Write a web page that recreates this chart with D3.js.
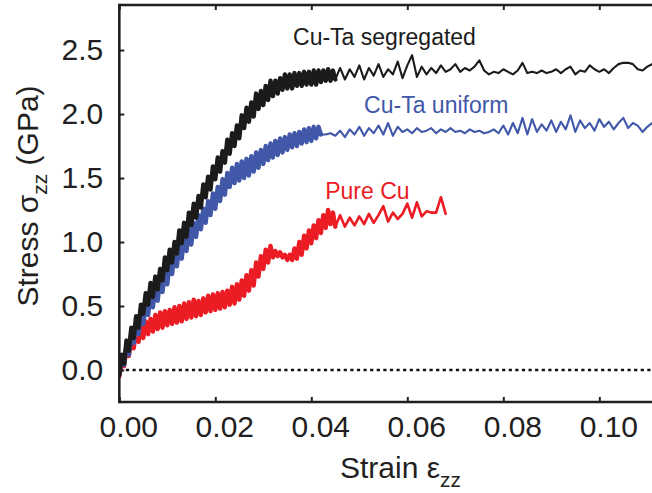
<!DOCTYPE html>
<html>
<head>
<meta charset="utf-8">
<script src="https://cdn.jsdelivr.net/npm/d3@7"></script>
<style>
  html, body { margin: 0; padding: 0; background: #fff; }
  svg { display: block; font-family: "Liberation Sans", Arial, Helvetica, sans-serif; }
</style>
</head>
<body>
<svg id="chart" width="652" height="493"></svg>
<script>
// ---- Stress–strain data (strain is sampled on a uniform grid, stress in GPa) ----

// Cu-Ta segregated: fine sampling 0 … 0.045, then coarse 0.046 … 0.111
const segregatedFineStart = 0, segregatedFineStep = 0.0005;
const segregatedFine = [
  -0.04, 0.12, 0.05, 0.23, 0.15, 0.33, 0.25, 0.42, 0.33, 0.51,
  0.44, 0.60, 0.51, 0.68, 0.57, 0.73, 0.63, 0.79, 0.70, 0.88,
  0.78, 0.94, 0.84, 1.00, 0.91, 1.09, 0.99, 1.15, 1.04, 1.23,
  1.13, 1.30, 1.19, 1.36, 1.27, 1.45, 1.35, 1.51, 1.41, 1.59,
  1.49, 1.66, 1.55, 1.71, 1.62, 1.80, 1.69, 1.85, 1.75, 1.91,
  1.81, 1.99, 1.89, 2.05, 1.94, 2.09, 1.98, 2.16, 2.04, 2.18,
  2.07, 2.22, 2.11, 2.26, 2.14, 2.26, 2.16, 2.28, 2.19, 2.31,
  2.20, 2.31, 2.20, 2.32, 2.22, 2.32, 2.22, 2.33, 2.23, 2.33,
  2.23, 2.34, 2.23, 2.34, 2.25, 2.34, 2.26, 2.35, 2.26, 2.34,
  2.27
];
const segregatedCoarseStart = 0.046, segregatedCoarseStep = 0.001;
const segregatedCoarse = [
  2.36, 2.27, 2.35, 2.29, 2.38, 2.27, 2.36, 2.30, 2.39, 2.29,
  2.35, 2.31, 2.41, 2.28, 2.38, 2.46, 2.29, 2.37, 2.31, 2.36,
  2.32, 2.38, 2.33, 2.35, 2.39, 2.33, 2.36, 2.34, 2.37, 2.42,
  2.34, 2.31, 2.33, 2.32, 2.35, 2.33, 2.31, 2.34, 2.40, 2.32,
  2.33, 2.32, 2.34, 2.32, 2.33, 2.35, 2.32, 2.35, 2.37, 2.31,
  2.34, 2.33, 2.38, 2.35, 2.33, 2.35, 2.32, 2.36, 2.39, 2.40,
  2.40, 2.39, 2.35, 2.34, 2.37, 2.39
];

// Cu-Ta uniform: fine sampling 0 … 0.042, then coarse 0.043 … 0.111
const uniformFineStart = 0, uniformFineStep = 0.0005;
const uniformFine = [
  -0.03, 0.10, 0.04, 0.20, 0.12, 0.29, 0.21, 0.37, 0.28, 0.44,
  0.36, 0.51, 0.43, 0.59, 0.49, 0.64, 0.54, 0.72, 0.61, 0.78,
  0.67, 0.86, 0.75, 0.92, 0.81, 0.98, 0.87, 1.04, 0.93, 1.10,
  0.98, 1.15, 1.04, 1.21, 1.10, 1.26, 1.15, 1.32, 1.21, 1.38,
  1.26, 1.43, 1.32, 1.49, 1.37, 1.54, 1.43, 1.58, 1.46, 1.61,
  1.48, 1.63, 1.50, 1.65, 1.52, 1.67, 1.55, 1.70, 1.58, 1.72,
  1.61, 1.75, 1.64, 1.77, 1.66, 1.79, 1.68, 1.81, 1.70, 1.82,
  1.72, 1.84, 1.74, 1.85, 1.75, 1.86, 1.77, 1.88, 1.78, 1.89,
  1.79, 1.90, 1.81, 1.90, 1.84
];
const uniformCoarseStart = 0.043, uniformCoarseStep = 0.001;
const uniformCoarse = [
  1.84, 1.85, 1.83, 1.87, 1.82, 1.88, 1.84, 1.90, 1.83, 1.89,
  1.85, 1.91, 1.84, 1.93, 1.83, 1.90, 1.86, 1.88, 1.85, 1.89,
  1.86, 1.87, 1.89, 1.85, 1.88, 1.86, 1.89, 1.86, 1.87, 1.85,
  1.88, 1.86, 1.87, 1.85, 1.86, 1.88, 1.85, 1.91, 1.84, 1.93,
  1.85, 1.97, 1.84, 1.96, 1.86, 1.92, 1.87, 1.95, 1.86, 1.94,
  1.88, 1.99, 1.86, 1.95, 1.89, 1.93, 1.87, 1.96, 1.90, 1.94,
  1.88, 1.93, 1.97, 1.89, 1.93, 1.91, 1.86, 1.90, 1.93
];

// Pure Cu: fine sampling 0 … 0.045, then coarse 0.046 … 0.068
const pureFineStart = 0, pureFineStep = 0.0005;
const pureFine = [
  -0.05, 0.06, 0.03, 0.17, 0.11, 0.25, 0.17, 0.30, 0.22, 0.35,
  0.25, 0.38, 0.28, 0.40, 0.30, 0.43, 0.32, 0.45, 0.33, 0.46,
  0.35, 0.47, 0.36, 0.49, 0.37, 0.50, 0.38, 0.52, 0.40, 0.53,
  0.41, 0.55, 0.42, 0.54, 0.43, 0.56, 0.45, 0.58, 0.46, 0.59,
  0.47, 0.60, 0.48, 0.61, 0.49, 0.62, 0.51, 0.65, 0.52, 0.67,
  0.55, 0.70, 0.58, 0.74, 0.62, 0.78, 0.66, 0.84, 0.73, 0.89,
  0.79, 0.94, 0.84, 0.97, 0.88, 0.93, 0.89, 0.92, 0.88, 0.90,
  0.86, 0.90, 0.86, 0.95, 0.87, 1.00, 0.90, 1.05, 0.95, 1.09,
  0.99, 1.13, 1.03, 1.17, 1.07, 1.21, 1.11, 1.25, 1.14, 1.23,
  1.12
];
const pureCoarseStart = 0.046, pureCoarseStep = 0.001;
const pureCoarse = [
  1.21, 1.12, 1.19, 1.13, 1.20, 1.14, 1.22, 1.15, 1.21, 1.28,
  1.16, 1.23, 1.18, 1.22, 1.30, 1.19, 1.31, 1.20, 1.24, 1.23,
  1.23, 1.35, 1.22
];

// Axis ticks
const xTicks = [0, 0.02, 0.04, 0.06, 0.08, 0.10];
const yTicks = [0, 0.5, 1.0, 1.5, 2.0, 2.5];

// Curve labels
const seriesNames = ["Pure Cu", "Cu-Ta uniform", "Cu-Ta segregated"];
const seriesColors = ["#ec1c24", "#4157a8", "#1b1b1b"];
// label anchor in data units (strain, stress)
const labelAnchors = [[0.0429, 1.336], [0.0510, 2.01], [0.0362, 2.54]];

// ---- Drawing ----
const W = 652, H = 493;
const plot = { left: 119.3, right: 652.6, top: 5, bottom: 402 };

const x = d3.scaleLinear().domain([0, 0.1111]).range([plot.left, plot.right]);
const y = d3.scaleLinear().domain([-0.25, 2.852]).range([plot.bottom, plot.top]);

const svg = d3.select("#chart");
const ink = "#231f20";

function sampled(start, step, values) {
  return values.map((v, i) => [start + i * step, v]);
}

// each curve: a densely sampled part (drawn as a heavy band) and a coarser tail
const curves = [
  { fine: sampled(pureFineStart, pureFineStep, pureFine),
    coarse: sampled(pureCoarseStart, pureCoarseStep, pureCoarse), tailWidth: 2.6 },
  { fine: sampled(uniformFineStart, uniformFineStep, uniformFine),
    coarse: sampled(uniformCoarseStart, uniformCoarseStep, uniformCoarse), tailWidth: 2.1 },
  { fine: sampled(segregatedFineStart, segregatedFineStep, segregatedFine),
    coarse: sampled(segregatedCoarseStart, segregatedCoarseStep, segregatedCoarse), tailWidth: 2.1 }
];

svg.append("defs").append("clipPath").attr("id", "plotClip")
  .append("rect")
  .attr("x", plot.left).attr("y", plot.top)
  .attr("width", plot.right - plot.left).attr("height", plot.bottom - plot.top);

// zero-stress reference line
svg.append("line")
  .attr("x1", x(0)).attr("x2", plot.right)
  .attr("y1", y(0)).attr("y2", y(0))
  .attr("stroke", "#111").attr("stroke-width", 2.4)
  .attr("stroke-dasharray", "3.2,3.4");

const line = d3.line().x(d => x(d[0])).y(d => y(d[1]));

const curveG = svg.append("g").attr("clip-path", "url(#plotClip)");
curves.forEach((c, i) => {
  const g = curveG.append("g")
    .attr("fill", "none")
    .attr("stroke", seriesColors[i])
    .attr("stroke-linejoin", "round")
    .attr("stroke-linecap", "round");
  g.append("path")
    .attr("d", line([c.fine[c.fine.length - 1]].concat(c.coarse)))
    .attr("stroke-width", c.tailWidth);
  g.append("path")
    .attr("d", line(c.fine))
    .attr("stroke-width", 4.4);
});

// curve labels
svg.append("g").selectAll("text").data(seriesNames).join("text")
  .attr("x", (d, i) => x(labelAnchors[i][0]))
  .attr("y", (d, i) => y(labelAnchors[i][1]))
  .attr("fill", (d, i) => seriesColors[i])
  .attr("font-size", 23)
  .text(d => d);

// axes
const xAxis = svg.append("g").attr("transform", `translate(0,${plot.bottom})`)
  .call(d3.axisBottom(x).tickValues(xTicks).tickFormat(d3.format(".2f"))
    .tickSize(-5).tickSizeOuter(0).tickPadding(15));
const xAxisTop = svg.append("g").attr("transform", `translate(0,${plot.top})`)
  .call(d3.axisTop(x).tickValues(xTicks).tickFormat("")
    .tickSize(-5).tickSizeOuter(0));
const yAxis = svg.append("g").attr("transform", `translate(${plot.left},0)`)
  .call(d3.axisLeft(y).tickValues(yTicks).tickFormat(d3.format(".1f"))
    .tickSize(-5).tickSizeOuter(0).tickPadding(16));

[xAxis, xAxisTop, yAxis].forEach(g => {
  g.select(".domain").attr("stroke", ink).attr("stroke-width", 2.6);
  g.selectAll(".tick line").attr("stroke", ink).attr("stroke-width", 2);
  g.selectAll(".tick text").attr("fill", ink)
    .attr("font-family", "Liberation Sans, Arial, sans-serif").attr("font-size", 30);
});
xAxis.selectAll(".tick text").attr("dx", 9).attr("dy", "0.78em").attr("y", 12);
// the top and bottom rules run to the right edge
xAxis.select(".domain").attr("d", `M${plot.left},0H${W}`);
xAxisTop.select(".domain").attr("d", `M${plot.left},0H${W}`);
yAxis.select(".domain").attr("d", `M0,${plot.top - 1.3}V${plot.bottom + 1.3}`);

// axis titles
const xTitle = svg.append("text")
  .attr("x", 340).attr("y", 478)
  .attr("fill", ink).attr("font-size", 30);
xTitle.append("tspan").text("Strain \u03b5");
xTitle.append("tspan").attr("font-size", 21).attr("dy", 9).text("zz");

const yTitle = svg.append("text")
  .attr("transform", "translate(38,196) rotate(-90)")
  .attr("text-anchor", "middle")
  .attr("fill", ink).attr("font-size", 30);
yTitle.append("tspan").text("Stress \u03c3");
yTitle.append("tspan").attr("font-size", 21).attr("dy", 9).text("zz");
yTitle.append("tspan").attr("dy", -9).text(" (GPa)");
</script>
</body>
</html>
